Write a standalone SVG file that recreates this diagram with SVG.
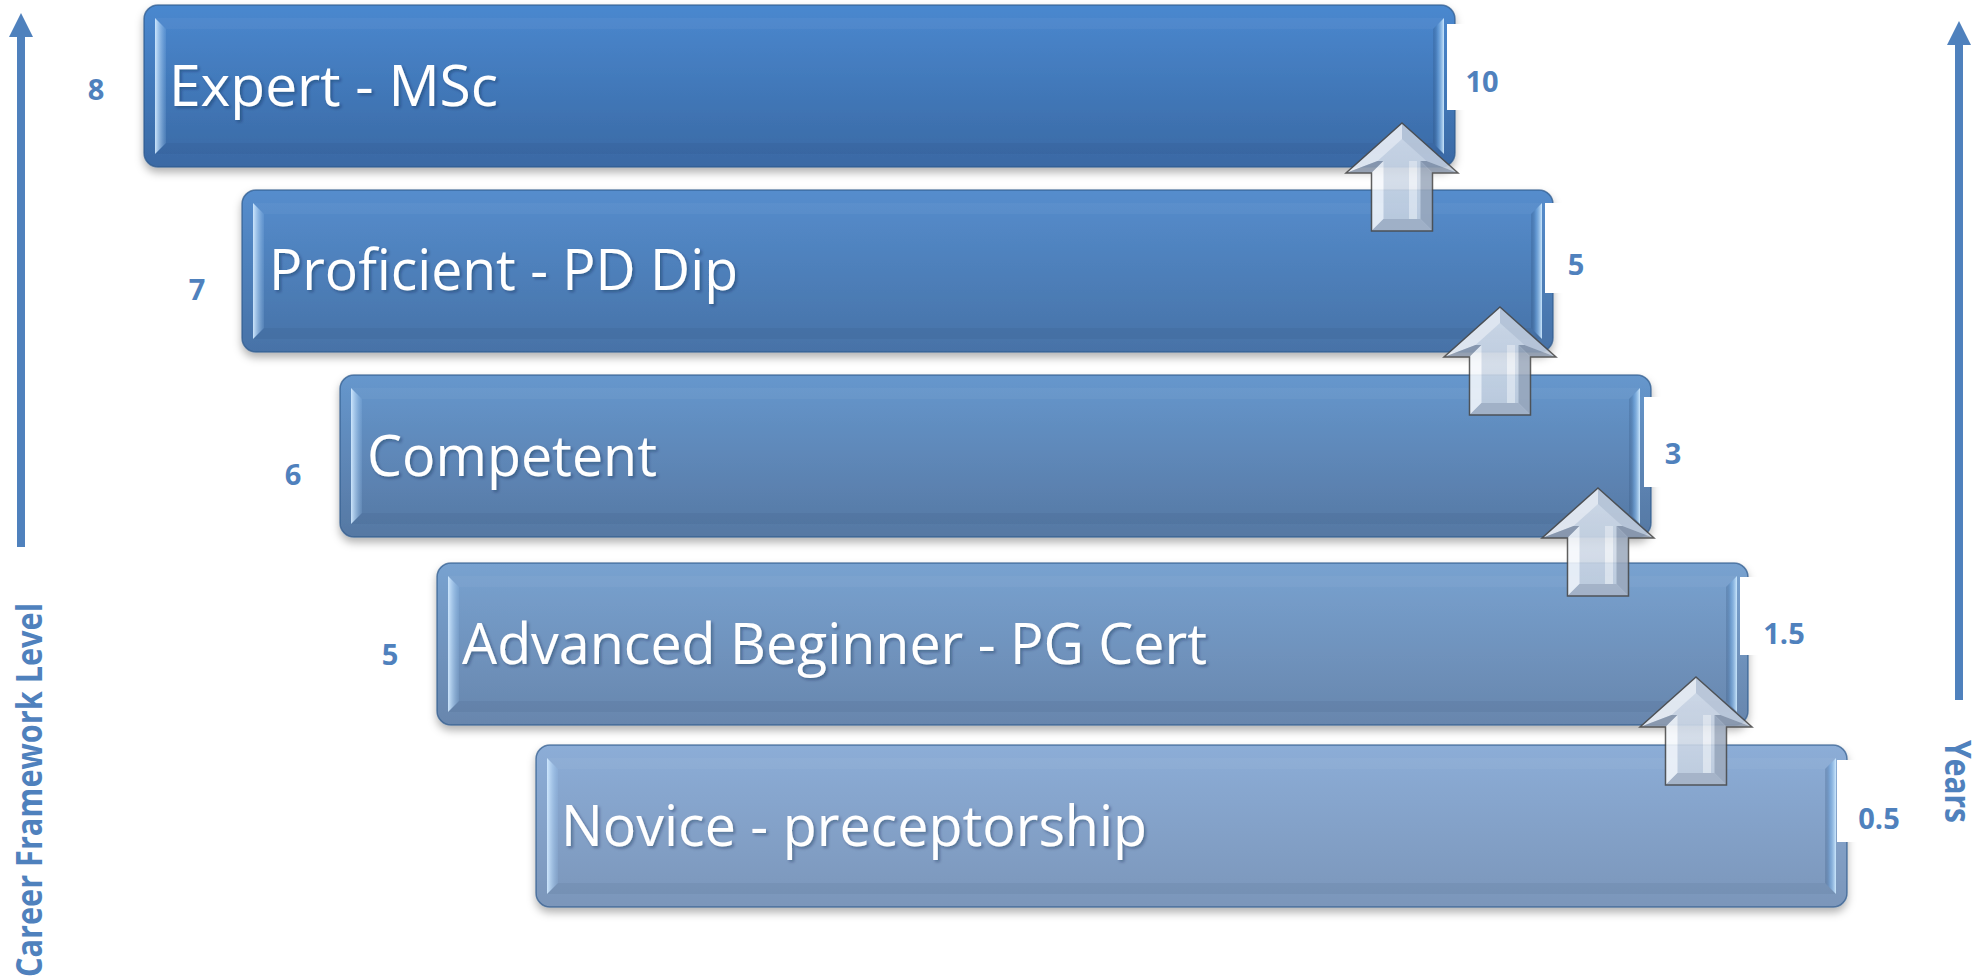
<svg xmlns="http://www.w3.org/2000/svg" xmlns:xlink="http://www.w3.org/1999/xlink" width="1986" height="980" viewBox="0 0 1986 980">
  <style>
    .box { stroke: #2f5a8c; stroke-opacity: 0.7; stroke-width: 1.5; filter: url(#boxShadow); }
    .lbl { font-family: "Open Sans", "Liberation Sans", sans-serif; font-size: 57px; fill: #ffffff; filter: url(#textShadow); }
    .num { font-family: "Open Sans", "Liberation Sans", sans-serif; font-size: 29px; font-weight: 700; fill: #4f81bd; text-anchor: middle; }
    .axis-title { font-family: "Open Sans", "Liberation Sans", sans-serif; font-size: 36px; font-weight: 700; fill: #4f81bd; }
    .axis { stroke: #4f81bd; stroke-width: 8; fill: none; }
    .notch { fill: #ffffff; }
  </style>
  <defs>
    <filter id="boxShadow" x="-5%" y="-20%" width="110%" height="150%">
      <feDropShadow dx="0" dy="5" stdDeviation="4" flood-color="#000000" flood-opacity="0.3"/>
    </filter>
    <filter id="textShadow" x="-5%" y="-20%" width="110%" height="150%">
      <feDropShadow dx="2" dy="2" stdDeviation="1.5" flood-color="#0a1e3c" flood-opacity="0.35"/>
    </filter>

    <!-- box body fills, darkest at the top level -->
    <linearGradient id="b0" x1="0" y1="0" x2="0" y2="1">
      <stop offset="0" stop-color="#4a88cf"/>
      <stop offset="1" stop-color="#3a69a4"/>
    </linearGradient>
    <linearGradient id="b1" x1="0" y1="0" x2="0" y2="1">
      <stop offset="0" stop-color="#558dcd"/>
      <stop offset="1" stop-color="#4772a7"/>
    </linearGradient>
    <linearGradient id="b2" x1="0" y1="0" x2="0" y2="1">
      <stop offset="0" stop-color="#6697cd"/>
      <stop offset="1" stop-color="#5678a3"/>
    </linearGradient>
    <linearGradient id="b3" x1="0" y1="0" x2="0" y2="1">
      <stop offset="0" stop-color="#78a2d0"/>
      <stop offset="1" stop-color="#6886ad"/>
    </linearGradient>
    <linearGradient id="b4" x1="0" y1="0" x2="0" y2="1">
      <stop offset="0" stop-color="#8cadd7"/>
      <stop offset="1" stop-color="#7b96ba"/>
    </linearGradient>

    <!-- bevel edge shading -->
    <linearGradient id="hlL" x1="0" y1="0" x2="1" y2="0">
      <stop offset="0" stop-color="#d2eaff" stop-opacity="0.95"/>
      <stop offset="1" stop-color="#9cc6f0" stop-opacity="0.15"/>
    </linearGradient>
    <linearGradient id="hlR" x1="0" y1="0" x2="1" y2="0">
      <stop offset="0" stop-color="#1e3c64" stop-opacity="0.18"/>
      <stop offset="0.45" stop-color="#6fa6de" stop-opacity="0.5"/>
      <stop offset="1" stop-color="#d0ebff" stop-opacity="0.95"/>
    </linearGradient>
    <linearGradient id="arrowFace" x1="0" y1="0" x2="0" y2="1">
      <stop offset="0" stop-color="#dde5f0"/>
      <stop offset="1" stop-color="#c3cfdf"/>
    </linearGradient>

    <g id="bevel">
      <polygon points="11,13 1300,13 1289,24 22,24" fill="#ffffff" fill-opacity="0.04"/>
      <polygon points="22,138 1289,138 1300,149 11,149" fill="#0a2040" fill-opacity="0.06"/>
      <polygon points="11,13 22,24 22,138 11,149" fill="url(#hlL)"/>
      <polygon points="1289,24 1300,13 1300,149 1289,138" fill="url(#hlR)"/>
    </g>

    <!-- bevelled block arrow, tip at the origin -->
    <g id="up-arrow" opacity="0.88">
      <polygon points="0,0 56,50 30.5,50 30.5,108 -30.5,108 -30.5,50 -56,50" fill="url(#arrowFace)"/>
      <polygon points="0,0 -56,50 -24.5,38 0,16.1" fill="#f2f5fa"/>
      <polygon points="0,0 56,50 24.5,38 0,16.1" fill="#c4cfdf"/>
      <polygon points="-56,50 -30.5,50 -18.5,38 -24.5,38" fill="#8f9cb0"/>
      <polygon points="56,50 30.5,50 18.5,38 24.5,38" fill="#8f9cb0"/>
      <polygon points="-30.5,50 -30.5,108 -18.5,96 -18.5,38" fill="#f5f8fc"/>
      <polygon points="30.5,50 30.5,108 18.5,96 18.5,38" fill="#9eabbe"/>
      <polygon points="-30.5,108 30.5,108 18.5,96 -18.5,96" fill="#aab6c8"/>
      <rect x="7" y="38" width="8" height="58" fill="#ffffff" fill-opacity="0.55"/>
      <polygon points="0,0 56,50 30.5,50 30.5,108 -30.5,108 -30.5,50 -56,50" fill="none" stroke="#4a4a4a" stroke-width="1.5" stroke-linejoin="miter"/>
    </g>

    <marker id="axisHead" markerUnits="userSpaceOnUse" viewBox="0 0 24 24" markerWidth="24" markerHeight="24" refX="0" refY="12" orient="auto">
      <path d="M0,0 L24,12 L0,24 Z" fill="#4f81bd"/>
    </marker>
  </defs>

  <rect width="1986" height="980" fill="#ffffff"/>

  <!-- level 8 -->
  <g id="expert" transform="translate(144,5)">
    <rect class="box" width="1311" height="162" rx="14" fill="url(#b0)"/>
    <use href="#bevel"/>
    <rect class="notch" x="1303" y="19" width="30" height="86"/>
    <text class="lbl" x="25" y="101" textLength="329" lengthAdjust="spacingAndGlyphs">Expert - MSc</text>
    <text class="num" x="-48" y="95">8</text>
    <text class="num" x="1338" y="87">10</text>
  </g>

  <!-- level 7 -->
  <g id="proficient" transform="translate(242,190)">
    <rect class="box" width="1311" height="162" rx="14" fill="url(#b1)"/>
    <use href="#bevel"/>
    <rect class="notch" x="1303" y="13" width="30" height="90"/>
    <text class="lbl" x="27" y="100" textLength="469" lengthAdjust="spacingAndGlyphs">Proficient - PD Dip</text>
    <text class="num" x="-45" y="110">7</text>
    <text class="num" x="1334" y="85">5</text>
  </g>

  <!-- level 6 -->
  <g id="competent" transform="translate(340,375)">
    <rect class="box" width="1311" height="162" rx="14" fill="url(#b2)"/>
    <use href="#bevel"/>
    <rect class="notch" x="1304" y="22" width="30" height="90"/>
    <text class="lbl" x="27" y="101" textLength="290" lengthAdjust="spacingAndGlyphs">Competent</text>
    <text class="num" x="-47" y="110">6</text>
    <text class="num" x="1333" y="89">3</text>
  </g>

  <!-- level 5 -->
  <g id="advanced-beginner" transform="translate(437,563)">
    <rect class="box" width="1311" height="162" rx="14" fill="url(#b3)"/>
    <use href="#bevel"/>
    <rect class="notch" x="1303" y="14" width="30" height="78"/>
    <text class="lbl" x="25" y="101" textLength="745" lengthAdjust="spacingAndGlyphs">Advanced Beginner - PG Cert</text>
    <text class="num" x="-47" y="102">5</text>
    <text class="num" x="1347" y="81">1.5</text>
  </g>

  <!-- entry level -->
  <g id="novice" transform="translate(536,745)">
    <rect class="box" width="1311" height="162" rx="14" fill="url(#b4)"/>
    <use href="#bevel"/>
    <rect class="notch" x="1301" y="15" width="30" height="82"/>
    <text class="lbl" x="25" y="101" textLength="586" lengthAdjust="spacingAndGlyphs">Novice - preceptorship</text>
    <text class="num" x="1343" y="84">0.5</text>
  </g>

  <!-- progression arrows and axes -->
  <g id="connectors">
    <use href="#up-arrow" transform="translate(1402,123)"/>
    <use href="#up-arrow" transform="translate(1500,307)"/>
    <use href="#up-arrow" transform="translate(1598,488)"/>
    <use href="#up-arrow" transform="translate(1696,677)"/>
    <line class="axis" x1="21" y1="547" x2="21" y2="37" marker-end="url(#axisHead)"/>
    <line class="axis" x1="1959" y1="700" x2="1959" y2="45" marker-end="url(#axisHead)"/>
  </g>

  <g id="axis-titles">
    <text class="axis-title" transform="translate(42,977) rotate(-90)" textLength="374" lengthAdjust="spacingAndGlyphs">Career Framework Level</text>
    <text class="axis-title" transform="translate(1945,740) rotate(90)" textLength="83" lengthAdjust="spacingAndGlyphs">Years</text>
  </g>
</svg>
